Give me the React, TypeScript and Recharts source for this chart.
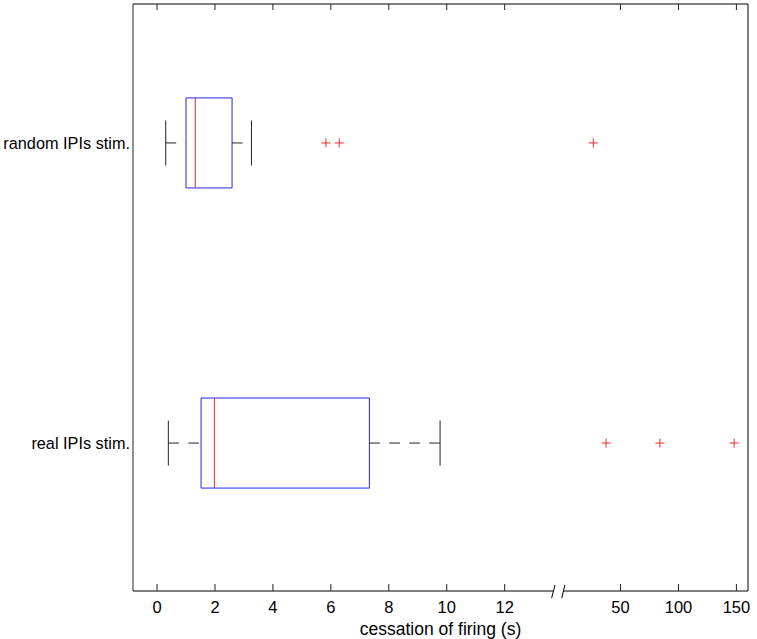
import React from "react";
import {
  ComposedChart,
  XAxis,
  YAxis,
  Scatter,
  ReferenceLine,
  ReferenceArea,
} from "recharts";

// ---- data (seconds) ----
const categories = ["random IPIs stim.", "real IPIs stim."];
const lowerWhisker = [0.3, 0.39];
const quartile1 = [1.0, 1.52];
const medians = [1.32, 1.98];
const quartile3 = [2.59, 7.33];
const upperWhisker = [3.26, 9.77];
const outliersRandom = [5.83, 6.29, 26.5];
const outliersReal = [37.5, 84, 148];
const tickValues = [0, 2, 4, 6, 8, 10, 12, 50, 100, 150];

// ---- broken-axis transform ----
const BREAK_AT = 13.8;
const f = (v: number) => (v <= BREAK_AT ? v : 14 + v / 25);

const XMIN = -0.83;
const XMAX = 20.4;
const YMIN = 0.537;
const YMAX = 2.493;

const BOX_HALF = 0.15;
const CAP_HALF = 0.075;
const TOP_TICK = 0.02;

const BLUE = "#2424e6";
const RED = "#f02828";
const DARK = "#222";

const outlierData = [
  ...outliersRandom.map((v) => ({ x: f(v), y: 1 })),
  ...outliersReal.map((v) => ({ x: f(v), y: 2 })),
];

const tickPositions = tickValues.map(f);

const Cross = (props: any) => {
  const { cx, cy } = props;
  if (cx == null || cy == null) return null;
  return (
    <g>
      <line x1={cx - 4.5} x2={cx + 4.5} y1={cy} y2={cy} stroke={RED} strokeWidth={1} />
      <line x1={cx} x2={cx} y1={cy - 4.5} y2={cy + 4.5} stroke={RED} strokeWidth={1} />
    </g>
  );
};

export default function App() {
  const boxes = categories.map((_, i) => {
    const y = i + 1;
    return (
      <React.Fragment key={i}>
        <ReferenceLine
          segment={[
            { x: f(lowerWhisker[i]), y },
            { x: f(quartile1[i]), y },
          ]}
          stroke={DARK}
          strokeDasharray="10.5 9.5"
          ifOverflow="visible"
        />
        <ReferenceLine
          segment={[
            { x: f(quartile3[i]), y },
            { x: f(upperWhisker[i]), y },
          ]}
          stroke={DARK}
          strokeDasharray="10.5 9.5"
          ifOverflow="visible"
        />
        <ReferenceLine
          segment={[
            { x: f(lowerWhisker[i]), y: y - CAP_HALF },
            { x: f(lowerWhisker[i]), y: y + CAP_HALF },
          ]}
          stroke={DARK}
          ifOverflow="visible"
        />
        <ReferenceLine
          segment={[
            { x: f(upperWhisker[i]), y: y - CAP_HALF },
            { x: f(upperWhisker[i]), y: y + CAP_HALF },
          ]}
          stroke={DARK}
          ifOverflow="visible"
        />
        <ReferenceArea
          x1={f(quartile1[i])}
          x2={f(quartile3[i])}
          y1={y - BOX_HALF}
          y2={y + BOX_HALF}
          stroke={BLUE}
          strokeWidth={1}
          fill="none"
          fillOpacity={0}
          ifOverflow="visible"
        />
        <ReferenceLine
          segment={[
            { x: f(medians[i]), y: y - BOX_HALF },
            { x: f(medians[i]), y: y + BOX_HALF },
          ]}
          stroke={RED}
          ifOverflow="visible"
        />
      </React.Fragment>
    );
  });

  const topTicks = tickPositions.map((t, i) => (
    <ReferenceLine
      key={`tt${i}`}
      segment={[
        { x: t, y: YMIN },
        { x: t, y: YMIN + TOP_TICK },
      ]}
      stroke={DARK}
      ifOverflow="visible"
    />
  ));

  return (
    <div
      style={{
        position: "absolute",
        left: 0,
        top: 0,
        width: 757,
        height: 639,
        background: "#fff",
        fontFamily: "'Liberation Sans', Arial, sans-serif",
      }}
    >
      <ComposedChart
        width={757}
        height={639}
        margin={{ top: 4, right: 9, bottom: 0, left: 0 }}
        data={outlierData}
      >
        <XAxis
          type="number"
          dataKey="x"
          domain={[XMIN, XMAX]}
          allowDataOverflow
          ticks={tickPositions}
          interval={0}
          tickFormatter={(_v: any, idx: number) => String(tickValues[idx])}
          tickSize={-7}
          tickMargin={17}
          tickLine={{ stroke: DARK }}
          axisLine={false}
          height={48}
          tick={{ fill: "#000", fontSize: 16.5 }}
          label={{
            value: "cessation of firing (s)",
            position: "insideBottom",
            offset: 4,
            fill: "#000",
            fontSize: 17.5,
          }}
        />
        <YAxis
          type="number"
          dataKey="y"
          domain={[YMIN, YMAX]}
          allowDataOverflow
          reversed
          ticks={[1, 2]}
          interval={0}
          tickFormatter={(v: number) => categories[v - 1] ?? ""}
          tickSize={0}
          tickMargin={3}
          tickLine={false}
          axisLine={{ stroke: DARK }}
          width={133}
          tick={{ fill: "#000", fontSize: 16.3 }}
        />
        {/* top and right borders */}
        <ReferenceLine y={YMIN} stroke="#000" ifOverflow="visible" />
        <ReferenceLine x={XMAX} stroke="#000" ifOverflow="visible" />
        {topTicks}
        {/* bottom axis line with break */}
        <ReferenceLine
          segment={[
            { x: XMIN, y: YMAX },
            { x: 13.68, y: YMAX },
          ]}
          stroke="#000"
          ifOverflow="visible"
        />
        <ReferenceLine
          segment={[
            { x: 14.02, y: YMAX },
            { x: XMAX, y: YMAX },
          ]}
          stroke="#000"
          ifOverflow="visible"
        />
        <ReferenceLine
          segment={[
            { x: 13.62, y: 2.517 },
            { x: 13.74, y: 2.473 },
          ]}
          stroke="#000"
          ifOverflow="visible"
        />
        <ReferenceLine
          segment={[
            { x: 13.97, y: 2.517 },
            { x: 14.08, y: 2.473 },
          ]}
          stroke="#000"
          ifOverflow="visible"
        />
        {boxes}
        <Scatter
          data={outlierData}
          dataKey="y"
          shape={<Cross />}
          isAnimationActive={false}
        />
      </ComposedChart>
    </div>
  );
}
